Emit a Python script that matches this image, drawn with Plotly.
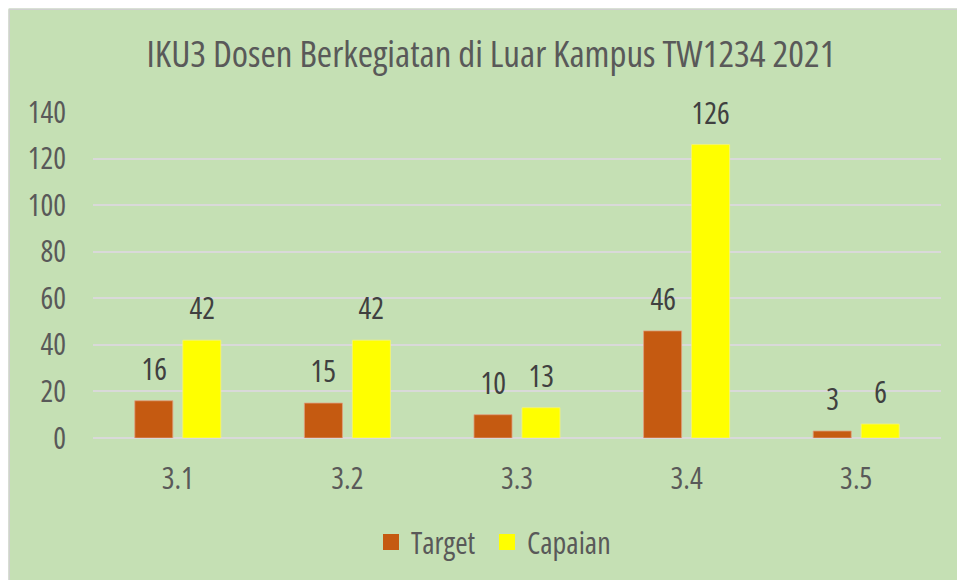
import plotly.graph_objects as go

categories = ["3.1", "3.2", "3.3", "3.4", "3.5"]
target = [16, 15, 10, 46, 3]
capaian = [42, 42, 13, 126, 6]
y_ticks = [0, 20, 40, 60, 80, 100, 120, 140]
title_text = "IKU3 Dosen Berkegiatan di Luar Kampus TW1234 2021"
series_names = ["Target", "Capaian"]

FONT = "Open Sans, Roboto, sans-serif"
BG = "#C5E0B4"
C_TARGET = "#C55A11"
C_CAPAIAN = "#FFFF00"

W, H = 957, 580
L, R, T, B = 93, 16, 112, 142
pw = W - L - R
ph = H - T - B

fig = go.Figure()
fig.add_trace(go.Bar(name=series_names[0], x=categories, y=target, showlegend=False,
                     marker=dict(color=C_TARGET, line=dict(color="#E0A080", width=0.8))))
fig.add_trace(go.Bar(name=series_names[1], x=categories, y=capaian, showlegend=False,
                     marker=dict(color=C_CAPAIAN, line=dict(color="#F4F47A", width=0.8))))
# legend entries with larger square swatches, one legend each so the spacing can be set
for name, col, leg in zip(series_names, (C_TARGET, C_CAPAIAN), ("legend", "legend2")):
    fig.add_trace(go.Scatter(name=name, x=[None], y=[None], mode="markers", legend=leg,
                             marker=dict(symbol="square", size=16, color=col)))

annotations = []
for series, shift in ((target, -24), (capaian, 24)):
    for i, v in enumerate(series):
        annotations.append(dict(x=i, y=v, xref="x", yref="y", text=str(v), showarrow=False,
                                xshift=shift, yshift=10, yanchor="bottom",
                                font=dict(family=FONT, size=30, color="#404040")))

def px_x(p):
    return (p - L) / pw

def px_y(p):
    return (H - B - p) / ph

shapes = [
    dict(type="rect", xref="paper", yref="paper", x0=px_x(-5), x1=px_x(8.5), y0=px_y(H + 5), y1=px_y(-5),
         fillcolor="white", line=dict(width=0), layer="above"),
    dict(type="rect", xref="paper", yref="paper", x0=px_x(-5), x1=px_x(W + 5), y0=px_y(8.5), y1=px_y(-5),
         fillcolor="white", line=dict(width=0), layer="above"),
    dict(type="line", xref="paper", yref="paper", x0=px_x(9.2), x1=px_x(9.2), y0=px_y(H + 5), y1=px_y(9.2),
         line=dict(color="#D0D0D0", width=1.5), layer="above"),
    dict(type="line", xref="paper", yref="paper", x0=px_x(9.2), x1=px_x(W + 5), y0=px_y(9.2), y1=px_y(9.2),
         line=dict(color="#D0D0D0", width=1.5), layer="above"),
]

legend_common = dict(orientation="h", yanchor="middle", xanchor="left", bgcolor="rgba(0,0,0,0)",
                     font=dict(family=FONT, size=30, color="#595959"), itemclick=False,
                     itemsizing="trace")

fig.update_layout(
    width=W, height=H,
    margin=dict(l=L, r=R, t=T, b=B, autoexpand=False),
    paper_bgcolor=BG, plot_bgcolor=BG,
    barmode="group", bargap=0.434, bargroupgap=0.208,
    title=dict(text=title_text, x=491 / W, xref="container", xanchor="center",
               y=1 - 54 / H, yref="container", yanchor="middle",
               font=dict(family=FONT, size=37, color="#595959")),
    showlegend=True,
    legend=dict(x=px_x(371), y=px_y(542), **legend_common),
    legend2=dict(x=px_x(487), y=px_y(542), **legend_common),
    xaxis=dict(type="category", showgrid=False, showline=False, zeroline=False, ticks="",
               tickfont=dict(family=FONT, size=30, color="#595959"), ticklabelstandoff=20),
    yaxis=dict(range=[0, 140], tickvals=y_ticks, showgrid=True, gridcolor="#D9D9D9", gridwidth=1.5,
               zeroline=True, zerolinecolor="#D9D9D9", zerolinewidth=1.5, showline=False, ticks="",
               tickfont=dict(family=FONT, size=30, color="#595959"), ticklabelstandoff=26),
    annotations=annotations,
    shapes=shapes,
)

# page without margins/scrollbars; condensed width of the (variable) font,
# applied before a full redraw so Plotly measures it
js = """
document.documentElement.style.overflow = 'hidden';
document.body.style.margin = '0';
document.body.style.overflow = 'hidden';
var st = document.createElement('style');
st.textContent = 'svg text { font-stretch: 75% !important; }';
document.head.appendChild(st);
var gd = document.getElementById('{plot_id}');
Plotly.redraw(gd);
"""
fig.write_html("out.html", post_script=js, config={"displayModeBar": False})
